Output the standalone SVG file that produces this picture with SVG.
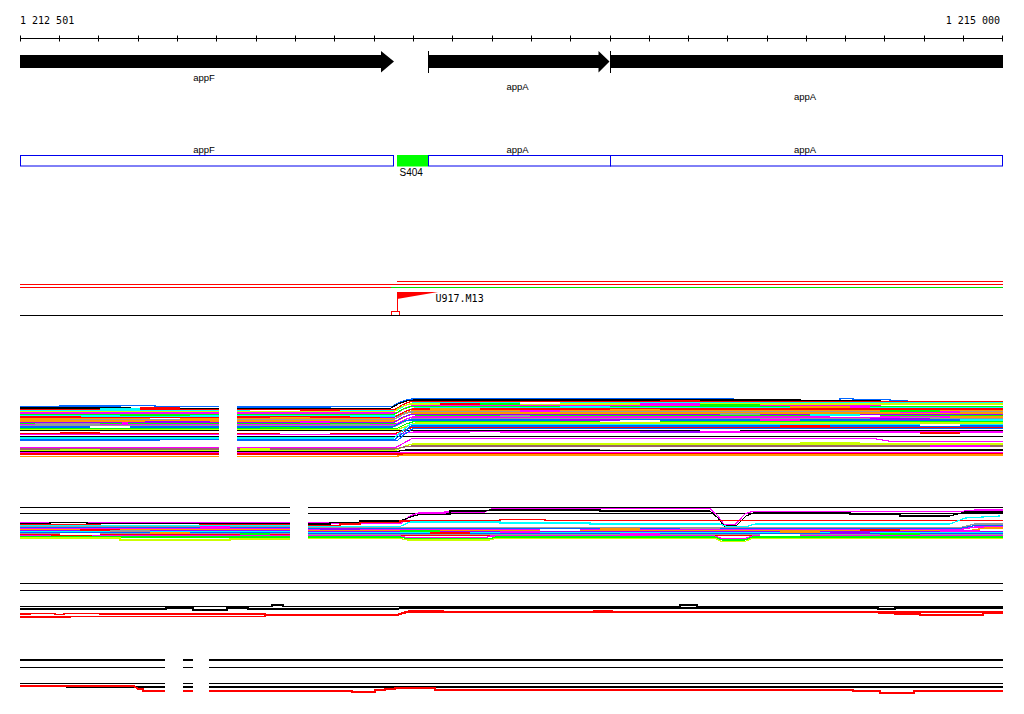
<svg xmlns="http://www.w3.org/2000/svg" width="1024" height="714" viewBox="0 0 1024 714">
<style>
.mono{font-family:"DejaVu Sans Mono","Liberation Mono",monospace;font-size:10px;fill:#000}
.lab{font-family:"Liberation Sans",Arial,sans-serif;font-size:9.5px;fill:#000;text-anchor:middle}
.tr path{fill:none;stroke-width:1.2}
.k{stroke:#000}.r{stroke:#ff0000}.b{stroke:#0066ff}.c{stroke:#00ffff}.m{stroke:#ff00ff}.g{stroke:#00ff00}
.y{stroke:#ccff00}.o{stroke:#ff9900}.gr{stroke:#999999}.p{stroke:#9900ff}.br{stroke:#996666}.w{stroke:#ffffff}
.box{fill:#fff;stroke:#0000ee;stroke-width:1}
</style>
<rect width="1024" height="714" fill="#fff"/>

<g id="ruler">
<text class="mono" x="20" y="24">1 212 501</text>
<text class="mono" x="1000" y="24" text-anchor="end">1 215 000</text>
<path d="M20 38.5H1003" stroke="#000" stroke-width="1" fill="none"/>
<path stroke="#000" stroke-width="1" fill="none" d="M20.5 35.5V41.5M59.5 35.5V41.5M98.5 35.5V41.5M138.5 35.5V41.5M177.5 35.5V41.5M216.5 35.5V41.5M256.5 35.5V41.5M295.5 35.5V41.5M334.5 35.5V41.5M374.5 35.5V41.5M413.5 35.5V41.5M452.5 35.5V41.5M492.5 35.5V41.5M531.5 35.5V41.5M570.5 35.5V41.5M610.5 35.5V41.5M649.5 35.5V41.5M688.5 35.5V41.5M727.5 35.5V41.5M767.5 35.5V41.5M806.5 35.5V41.5M845.5 35.5V41.5M884.5 35.5V41.5M924.5 35.5V41.5M963.5 35.5V41.5M1002.5 35.5V41.5"/>
</g>

<g id="gene-arrows">
<polygon points="20,55 381,55 381,51 394,61.5 381,72.5 381,68 20,68" fill="#000"/>
<path d="M428.5 51V73" stroke="#000" stroke-width="1"/>
<polygon points="428,55 598.5,55 598.5,51 609.5,61.5 598.5,72.5 598.5,68 428,68" fill="#000"/>
<path d="M610.5 51V73" stroke="#000" stroke-width="1"/>
<rect x="611" y="55" width="392" height="13" fill="#000"/>
<text class="lab" x="204" y="80.5">appF</text>
<text class="lab" x="517.5" y="89.5">appA</text>
<text class="lab" x="805" y="100">appA</text>
</g>

<g id="gene-boxes">
<rect class="box" x="20.5" y="155.5" width="373" height="10.5"/>
<rect x="397" y="155" width="31" height="11.5" fill="#00ff00"/>
<rect class="box" x="428.5" y="155.5" width="182" height="10.5"/>
<rect class="box" x="610.5" y="155.5" width="392" height="10.5"/>
<text class="lab" x="204" y="153">appF</text>
<text class="lab" x="517.5" y="153">appA</text>
<text class="lab" x="805" y="153">appA</text>
<text x="399.5" y="176" style="font-family:'Liberation Sans',Arial,sans-serif;font-size:10px;fill:#000">S404</text>
</g>

<g id="marker-track">
<path d="M397 281.5H1003" stroke="#ff0000" stroke-width="1"/>
<path d="M20 284.5H1003" stroke="#ff0000" stroke-width="1"/>
<path d="M20 287.5H391" stroke="#ff0000" stroke-width="1"/>
<path d="M391 287.5H1003" stroke="#00dd00" stroke-width="1"/>
<path d="M397.5 292V311.5" stroke="#ff0000" stroke-width="1"/>
<polygon points="397,292 438,292 397,299" fill="#ff0000"/>
<rect x="391.5" y="311.5" width="8" height="4" fill="none" stroke="#ff0000" stroke-width="1"/>
<path d="M20 315.5H1003" stroke="#000" stroke-width="1"/>
<text class="mono" x="435.5" y="302">U917.M13</text>
</g>

<g id="track1" class="tr" shape-rendering="crispEdges">
<path class="b" d="M20 407H60V406H120V405.5H155V406.5H219M237 407H330V406.5H392L400 402L408 399.5L416 398.5H733V399.5H787V400.7H840V398.5H853V399.5H890V400.7H907V402.3H923V403.3H970V402.3H1003"/>
<path class="k" d="M20 408H130V408.5H219M237 408.5H390L398 404L406 401L414 400H800V401H880V404.5H1003"/>
<path class="r" d="M20 409.5H219M237 409.5H395L402 405L410 401.7H1003"/>
<path class="c" d="M20 410.7H219M237 410.7H396L404 406L412 403H1003"/>
<path class="y" d="M20 412H100V411.5H219M237 412H393L401 407L409 404H1003"/>
<path class="m" d="M20 413H219M237 413H397L405 408L413 405.5H880V408H1003"/>
<path class="g" d="M20 414.3H219M237 414.3H394L403 409L411 406.7H1003"/>
<path class="c" d="M20 416H219M237 416H398L406 411L414 408H1003"/>
<path class="r" d="M20 417H80V417.5H219M237 417H395L404 412L412 409H1003"/>
<path class="o" d="M20 418.5H219M237 418.5H396L405 413L413 410.5H1003"/>
<path class="gr" d="M20 420H219M237 420H393L402 415L410 412H1003"/>
<path class="o" d="M20 421H219M237 421H397L406 416L414 413H1003"/>
<path class="p" d="M20 422.5H219M237 422.5H394L403 417L411 414.5H1003"/>
<path class="g" d="M20 423.7H219M237 423.7H398L407 419L415 416H1003"/>
<path class="m" d="M20 425H219M237 425H395L404 420L412 417H1003"/>
<path class="gr" d="M20 426H219M237 426H396L405 421L413 418.5H1003"/>
<path class="b" d="M20 427H219M237 427H393L402 422L410 420H1003"/>
<path class="g" d="M20 428.5H219M237 428.5H397L406 424L414 421.5H1003"/>
<path class="y" d="M20 429.5H219M237 429.5H398L407 426L415 423H1003"/>
<path class="k" d="M20 430.7H219M237 430.7H1003"/>
<path class="r" d="M20 433.3H219M237 433.3H396L405 430L413 427.3H1003"/>
<path class="m" d="M20 434.5H219M237 434.5H398L406 433L414 432H1003"/>
<path class="k" d="M20 436.5H219M237 436.5H1003"/>
<path class="c" d="M20 438H219M237 438H394L402 431L410 424.5H1003"/>
<path class="b" d="M20 439.5H219M237 439.5H395L403 433L411 426H1003"/>
<path class="b" d="M20 440.8H219M237 440.8H397L405 434L413 428.5H1003"/>
<path class="m" d="M20 447.3H219M237 447.3H396L404 443L412 438.5H873L893 441.7H1003"/>
<path class="y" d="M20 450H219M237 450H397L405 446L413 444H1003"/>
<path class="br" d="M20 449H219M237 449H395L404 447L412 446H1003"/>
<path class="k" d="M20 451.3H219M237 451.3H398L406 450H1003"/>
<path class="m" d="M20 452.7H219M237 452.7H1003"/>
<path class="r" d="M20 454H219M237 454H1003"/>
<path class="o" d="M20 456.5H219M237 456.5H395L404 455H1003"/>
<path class="w" d="M90 427H130M280 433.3H330M600 421H660M830 416H880M450 433H500M160 441H219M250 410.7H300M700 430.5H740M520 403H560M40 446H90M300 446H360M600 449H660M920 425H960M150 418.5H180"/>
<path class="m" d="M67 412.5H213M122 423H128M300 422H330M520 411H560M640 404H700M760 420H800M850 407H870M900 412H960M420 432H470M930 446H990M250 434.5H300"/>
<path class="o" d="M20 419.5H70M180 419H219M430 409H480M610 410H660M790 407H850M950 417H1003M270 418H310"/>
<path class="gr" d="M35 424H100M330 425H370M500 416H530M720 414H760M900 418H940"/>
<path class="p" d="M145 422H210M560 420H620M870 419H930M380 417H395M640 432H700"/>
<path class="g" d="M120 415H190M260 428H300M470 404H520M700 405H760M880 411H940"/>
<path class="r" d="M60 433H100M140 408H180M300 410H340M440 404H480M660 401H700M780 426H830M920 433H960"/>
<path class="c" d="M100 409H140M350 416H395M560 407H610M810 415H860M960 420H1003"/>
<path class="y" d="M60 450H100M440 444H500M240 449H270M800 443H860"/>
</g>

<g id="track2" class="tr" shape-rendering="crispEdges">
<path class="k" d="M20 507.3H290M308 507.3H1003"/>
<path class="k" d="M20 513.3H290M308 513.3H1003"/>
<path class="m" d="M20 522.7H290M308 523H402L410 516L418 513H445V512H485L492 508.5H710L718 516L724 524.5H735L745 514L752 511.5H960L975 510H1003"/>
<path class="k" d="M20 523.5H50V522.3H87V523.5H290M308 524H330V522.5H360V521H400L412 516.5L420 514.5H450V511H485L490 510H600V511H710L718 518L724 526H736L746 516L753 513H850V514.5H900V516H950L965 512H1003"/>
<path class="r" d="M20 524.5H100V525.5H200V524.5H290M308 525.5H340V524H360V522.5H400V521H500V519.5H545V520.5H1003"/>
<path class="c" d="M20 526H290M308 526.5H400L410 522H500V523H590V524H720L728 527H745L755 524H950L965 518L1000 516"/>
<path class="gr" d="M20 527H290M308 527.5H960L975 524H1003"/>
<path class="b" d="M20 528H290M308 528.5H960L975 525.5H1003"/>
<path class="m" d="M20 529H290M308 529.5H960L975 527H1003"/>
<path class="o" d="M20 530H290M308 530.5H970L985 528H1003"/>
<path class="p" d="M20 531H290M308 531.5H1003"/>
<path class="c" d="M20 532H290M308 532.5H1003"/>
<path class="b" d="M20 533H290M308 533.5H1003"/>
<path class="gr" d="M20 534H290M308 534.5H1003"/>
<path class="r" d="M20 535H290M308 535.3H1003"/>
<path class="m" d="M20 536H50V537.7H93V536H290M308 536H400L408 538H485L490 536H715L722 538.5H745L752 536H1003"/>
<path class="g" d="M20 537H290M308 537H400L408 539H490L495 537H715L722 540H745L752 537H1003"/>
<path class="y" d="M20 538H120V540H230V539H290M308 538.5H400L408 540H490L495 538.5H715L722 541.5H745L752 538.5H1003"/>
<path class="r" d="M80 530H120M430 533H470M860 530H900"/>
<path class="m" d="M200 527H230M500 532H540M620 534H660M940 531H980"/>
<path class="o" d="M150 533H190M600 529H640M780 532H820"/>
<path class="g" d="M400 531H440M240 534H270M880 534H920"/>
<path class="p" d="M830 533H870M320 529H360"/>
<path class="gr" d="M680 528H720M110 531H150"/>
<path class="w" d="M60 534H100M540 530H580M760 535H800"/>
</g>

<g id="track3" class="tr" shape-rendering="crispEdges">
<path class="k" d="M20 583.3H1003"/>
<path class="k" d="M20 590.3H1003"/>
<path class="k" style="stroke-width:1.6" d="M20 606.3H272V605H283V606.3H680V605H697V606.3H1003"/>
<path class="k" style="stroke-width:2" d="M20 609H166V607.5H193V609.5H227V608H248V609H397L403 607.5H878V608.5H895V607.5H1003"/>
<path class="r" style="stroke-width:1.6" d="M20 614H30V613.5H55V614.5H64V613.5H100V614H265V614.8H397L403 612.5L410 611H443V612H594V610.7H612V612H879V613H895V613.8H920V614.7H983V612.7H1003"/>
<path class="r" style="stroke-width:1.6" d="M20 617H70V616.5H265V615.5H397L404 613L411 612H1003"/>
</g>

<g id="track4" class="tr" shape-rendering="crispEdges">
<path class="k" d="M20 660H165M183 660H193M209 660H1003"/>
<path class="k" d="M20 667.3H165M183 667.3H193M209 667.3H1003"/>
<path class="k" d="M20 683.3H165M183 683.3H193M209 683.3H1003"/>
<path class="k" style="stroke-width:2.2" d="M66 687H165M183 687H193M209 687H1003"/>
<path class="r" style="stroke-width:2" d="M20 686.3H125V685.5H133L138 689H143V690.5H165M183 690.5H193M209 690.5H352V692H375V690H385V689H395V688H435V689.8H853V691H880V692.5H914V690.5H1003"/>
</g>
</svg>
